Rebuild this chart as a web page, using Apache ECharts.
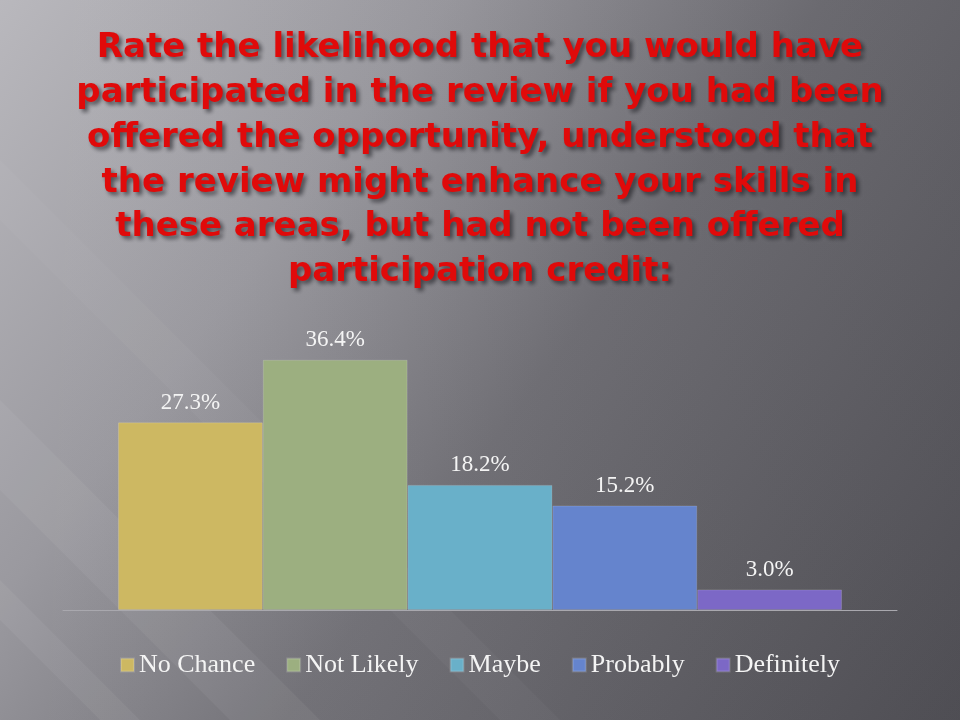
<!DOCTYPE html>
<html>
<head>
<meta charset="utf-8">
<script src="https://cdn.jsdelivr.net/npm/echarts@6/dist/echarts.min.js"></script>
<style>html,body{margin:0;padding:0;background:#6a696f;}#chart{width:960px;height:720px;}</style>
</head>
<body>
<div id="chart"></div>
<script>
var titleLines = [
  'Rate the likelihood that you would have',
  'participated in the review if you had been',
  'offered the opportunity, understood that',
  'the review might enhance your skills in',
  'these areas, but had not been offered',
  'participation credit:'
];
var seriesNames = ['No Chance', 'Not Likely', 'Maybe', 'Probably', 'Definitely'];
var seriesValues = [27.3, 36.4, 18.2, 15.2, 3.0];
var seriesColors = ['#cdb862', '#9caf80', '#69b0c9', '#6584cd', '#7c68c6'];
var categories = [''];

var chart = echarts.init(document.getElementById('chart'), null, {renderer: 'canvas'});

var series = seriesNames.map(function (name, i) {
  return {
    name: name,
    type: 'bar',
    data: [seriesValues[i]],
    barWidth: 144.8,
    barGap: '0%',
    itemStyle: {color: seriesColors[i], borderColor: 'rgba(255,255,255,0.15)', borderWidth: 1},
    label: {
      show: true,
      position: 'top',
      distance: 8,
      color: '#f4f4f4',
      fontFamily: 'Liberation Serif',
      fontSize: 23,
      formatter: function (p) { return p.value.toFixed(1) + '%'; }
    },
    emphasis: {disabled: true}
  };
});

function band(points, a) {
  return {type: 'polygon', z: -9, silent: true, shape: {points: points},
    style: {fill: 'rgba(255,255,255,' + a + ')'}};
}

var option = {
  animation: false,
  graphic: [
    {type: 'rect', z: -10, silent: true, shape: {x: 0, y: 0, width: 960, height: 720},
      style: {fill: {type: 'linear', x: 0, y: 0, x2: 1, y2: 1, colorStops: [
        {offset: 0, color: '#b9b8bd'}, {offset: 0.3, color: '#9a999f'},
        {offset: 0.55, color: '#727177'}, {offset: 1, color: '#545359'}]}}},
    {type: 'rect', z: -9, silent: true, shape: {x: 0, y: 0, width: 960, height: 720},
      style: {fill: {type: 'linear', x: 0, y: 0, x2: 1, y2: 0, colorStops: [
        {offset: 0, color: 'rgba(255,255,255,0)'}, {offset: 0.6, color: 'rgba(40,40,45,0.05)'},
        {offset: 1, color: 'rgba(40,40,45,0.12)'}]}}},
    band([[-200, 200], [-200, 290], [330, 820], [420, 820]], 0.05),
    band([[-200, 380], [-200, 420], [200, 820], [240, 820]], 0.05),
    band([[-100, 120], [-40, 120], [560, 720], [500, 720]], 0.03)
  ],
  title: {
    text: titleLines.join('\n'),
    left: 'center',
    top: 21,
    textStyle: {
      color: '#e00a0a',
      fontFamily: 'DejaVu Sans',
      fontWeight: 'bold',
      fontSize: 34,
      lineHeight: 44.8,
      textShadowColor: 'rgba(20,20,25,0.6)',
      textShadowBlur: 4,
      textShadowOffsetX: 3,
      textShadowOffsetY: 3
    }
  },
  legend: {
    data: seriesNames,
    bottom: 37,
    left: 'center',
    itemWidth: 13,
    itemHeight: 13,
    itemGap: 31,
    icon: 'rect',
    textStyle: {color: '#f4f4f4', fontFamily: 'Liberation Serif', fontSize: 26},
    selectedMode: false
  },
  grid: {left: 63, right: 63, top: 335, bottom: 110, containLabel: false},
  xAxis: {
    type: 'category',
    data: categories,
    axisLine: {show: true, lineStyle: {color: '#a9a8ae', width: 1}},
    axisTick: {show: false},
    axisLabel: {show: false},
    splitLine: {show: false}
  },
  yAxis: {
    type: 'value',
    min: 0,
    max: 40,
    show: false
  },
  series: series
};
chart.setOption(option);
</script>
</body>
</html>
